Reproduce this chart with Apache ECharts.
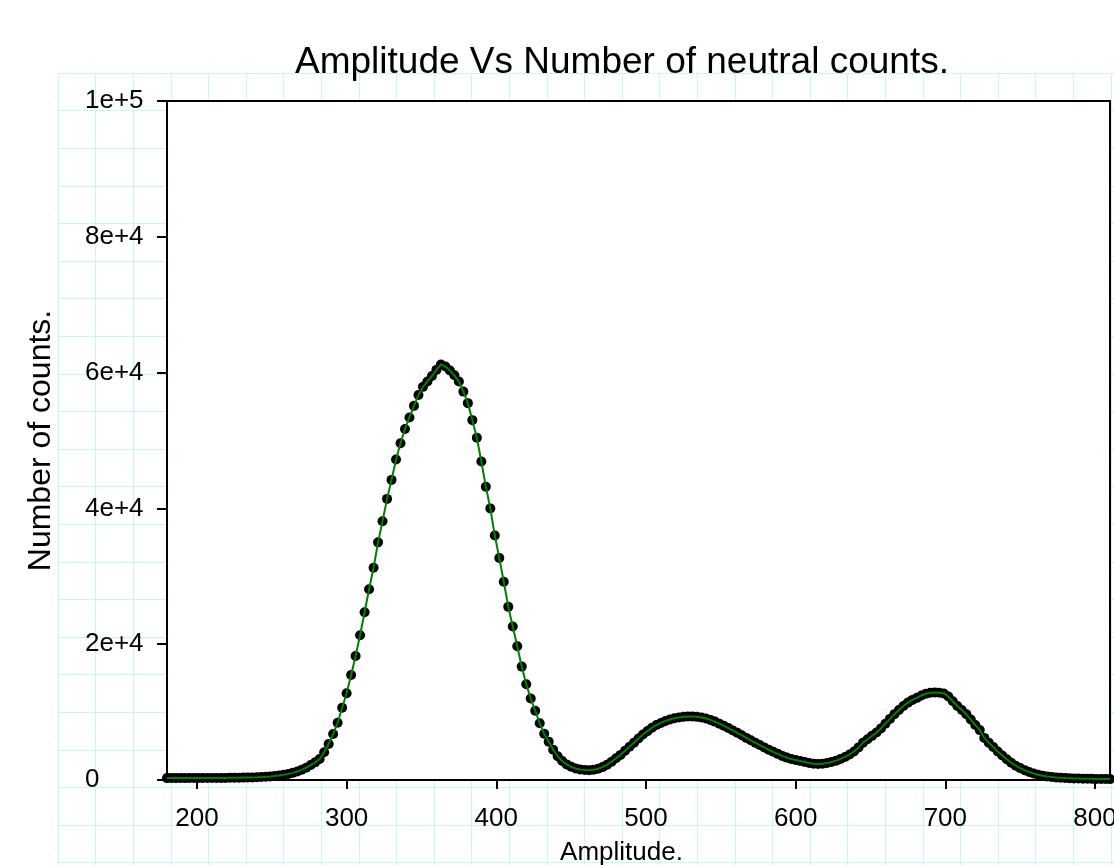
<!DOCTYPE html>
<html>
<head>
<meta charset="utf-8">
<script src="https://cdn.jsdelivr.net/npm/echarts@6/dist/echarts.min.js"></script>
<style>
  html, body { margin: 0; padding: 0; background: #fff; }
  #main { width: 1114px; height: 865px; }
</style>
</head>
<body>
<div id="main"></div>
<script>
// channel (amplitude) of each measured point
const amplitude = [
  180, 183, 186, 189, 192, 195, 198, 201, 204, 207,
  210, 213, 216, 219, 222, 225, 228, 231, 234, 237,
  240, 243, 246, 249, 252, 255, 258, 261, 264, 267,
  270, 273, 276, 279, 282, 285, 288, 291, 294, 297,
  300, 303, 306, 309, 312, 315, 318, 321, 324, 327,
  330, 333, 336, 339, 342, 345, 348, 351, 354, 357,
  360, 363, 366, 369, 372, 375, 378, 381, 384, 387,
  390, 393, 396, 399, 402, 405, 408, 411, 414, 417,
  420, 423, 426, 429, 432, 435, 438, 441, 444, 447,
  450, 453, 456, 459, 462, 465, 468, 471, 474, 477,
  480, 483, 486, 489, 492, 495, 498, 501, 504, 507,
  510, 513, 516, 519, 522, 525, 528, 531, 534, 537,
  540, 543, 546, 549, 552, 555, 558, 561, 564, 567,
  570, 573, 576, 579, 582, 585, 588, 591, 594, 597,
  600, 603, 606, 609, 612, 615, 618, 621, 624, 627,
  630, 633, 636, 639, 642, 645, 648, 651, 654, 657,
  660, 663, 666, 669, 672, 675, 678, 681, 684, 687,
  690, 693, 696, 699, 702, 705, 708, 711, 714, 717,
  720, 723, 726, 729, 732, 735, 738, 741, 744, 747,
  750, 753, 756, 759, 762, 765, 768, 771, 774, 777,
  780, 783, 786, 789, 792, 795, 798, 801, 804, 807,
  810
];

// number of neutral counts at each channel
const counts = [
  280, 290, 280, 290, 280, 290, 290, 280, 290, 290,
  300, 300, 310, 310, 320, 330, 340, 350, 360, 380,
  400, 430, 470, 530, 600, 680, 780, 900, 1050, 1250,
  1500, 1800, 2200, 2600, 3100, 4080, 5300, 6780, 8440, 10650,
  12770, 15460, 18260, 21310, 24700, 28090, 31250, 35000, 38100, 41400,
  44200, 47200, 49600, 51700, 53400, 55100, 56700, 57900, 58700, 59500,
  60400, 61200, 60900, 60300, 59600, 58700, 57200, 55500, 53000, 50400,
  46900, 43200, 40000, 36000, 32700, 29200, 25500, 22600, 19700, 16700,
  14100, 12000, 10200, 8350, 6800, 5650, 4450, 3500, 2800, 2300,
  1950, 1700, 1550, 1480, 1450, 1500, 1650, 1900, 2250, 2700,
  3200, 3700, 4300, 4900, 5500, 6100, 6700, 7200, 7700, 8100,
  8400, 8700, 8900, 9100, 9200, 9300, 9350, 9350, 9300, 9200,
  9050, 8850, 8600, 8300, 8000, 7650, 7300, 6950, 6600, 6200,
  5850, 5500, 5150, 4800, 4450, 4150, 3850, 3550, 3300, 3100,
  2950, 2800, 2650, 2500, 2400, 2350, 2400, 2500, 2650, 2850,
  3100, 3400, 3750, 4200, 4800, 5500, 6000, 6500, 7000, 7600,
  8300, 9000, 9700, 10300, 10900, 11400, 11800, 12100, 12450, 12700,
  12850, 12900, 12850, 12750, 12300, 11600, 10900, 10300, 9700, 8900,
  8100, 7350, 6200, 5500, 4850, 4200, 3600, 3050, 2550, 2100,
  1750, 1450, 1180, 950, 780, 640, 530, 450, 380, 330,
  290, 260, 230, 210, 190, 180, 170, 160, 150, 140,
  130
];

const xTickValues = [200, 300, 400, 500, 600, 700, 800];
const yTickValues = [0, 20000, 40000, 60000, 80000, 100000];
const yTickLabels = ['0', '2e+4', '4e+4', '6e+4', '8e+4', '1e+5'];

const points = amplitude.map((a, i) => [a, counts[i]]);

const font = 'Liberation Sans, Arial, sans-serif';
const paperCyan = '#c4f8f8';

const myChart = echarts.init(document.getElementById('main'));
myChart.setOption({
  animation: false,
  backgroundColor: '#fff',
  title: {
    text: 'Amplitude Vs Number of neutral counts.',
    left: 295,
    top: 44,
    padding: 0,
    textStyle: { fontFamily: font, fontSize: 37, fontWeight: 'normal', color: '#000' }
  },
  grid: [
    // graph-paper background
    { left: 58, top: 73, width: 1090.4, height: 827.2, show: false, outerBoundsMode: 'none' },
    // plot frame
    {
      left: 167, top: 101, width: 943, height: 679, outerBoundsMode: 'none',
      show: true, backgroundColor: '#fff', borderColor: '#000', borderWidth: 2, z: 1
    }
  ],
  xAxis: [
    {
      gridIndex: 0, type: 'value', min: 0, max: 29, interval: 1, z: -1,
      axisLine: { show: false }, axisTick: { show: false }, axisLabel: { show: false },
      splitLine: { show: true, lineStyle: { color: paperCyan, width: 1 } }
    },
    {
      gridIndex: 1, type: 'value', min: 180, max: 810, z: 2,
      axisLine: { show: true, onZero: false, lineStyle: { color: '#000', width: 2 } },
      axisTick: { show: true, inside: false, length: 9, customValues: xTickValues,
        lineStyle: { color: '#000', width: 2 } },
      axisLabel: { show: true, customValues: xTickValues, margin: 26,
        fontFamily: font, fontSize: 26, color: '#000' },
      splitLine: { show: false },
      name: 'Amplitude.',
      nameLocation: 'middle',
      nameGap: 60,
      nameTextStyle: { fontFamily: font, fontSize: 26, color: '#000', padding: [0, 34, 0, 0] }
    }
  ],
  yAxis: [
    {
      gridIndex: 0, type: 'value', min: 0, max: 22, interval: 1, inverse: true, z: -1,
      axisLine: { show: false }, axisTick: { show: false }, axisLabel: { show: false },
      splitLine: { show: true, lineStyle: { color: paperCyan, width: 1 } }
    },
    {
      gridIndex: 1, type: 'value', min: 0, max: 100000, interval: 20000, z: 2,
      axisLine: { show: true, lineStyle: { color: '#000', width: 2 } },
      axisTick: { show: true, inside: false, length: 10, lineStyle: { color: '#000', width: 2 } },
      axisLabel: {
        show: true, margin: 82, align: 'left',
        fontFamily: font, fontSize: 26, color: '#000',
        formatter: (v) => yTickLabels[yTickValues.indexOf(v)]
      },
      splitLine: { show: false },
      name: 'Number of counts.',
      nameLocation: 'middle',
      nameRotate: 90,
      nameGap: 110,
      nameTextStyle: { fontFamily: font, fontSize: 32, color: '#000' }
    }
  ],
  series: [
    {
      name: 'points',
      type: 'scatter',
      xAxisIndex: 1, yAxisIndex: 1,
      data: points,
      symbol: 'circle',
      symbolSize: 10,
      clip: false,
      itemStyle: { color: '#000', opacity: 1 },
      z: 3
    },
    {
      name: 'line',
      type: 'line',
      xAxisIndex: 1, yAxisIndex: 1,
      data: points,
      showSymbol: false,
      clip: false,
      lineStyle: { color: '#008000', width: 2 },
      z: 4
    }
  ]
});
</script>
</body>
</html>
